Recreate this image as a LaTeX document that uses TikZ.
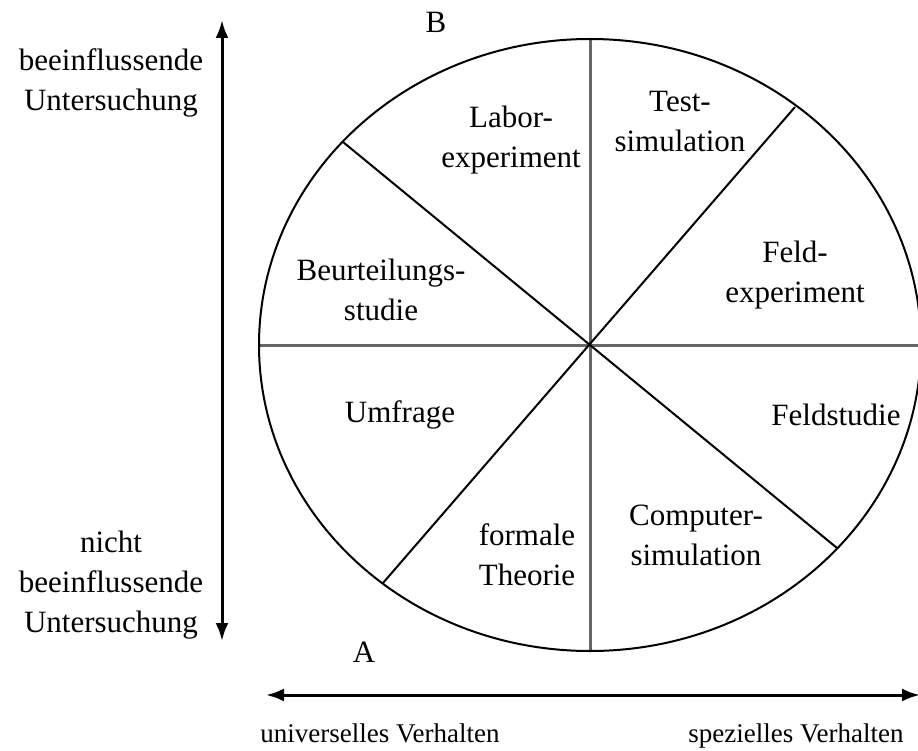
\documentclass[tikz,border=0pt]{standalone}
\usepackage{fontspec}
\setmainfont{Liberation Serif}
\usetikzlibrary{arrows.meta}
\begin{document}
\begin{tikzpicture}[x=1pt,y=-1pt,
  lbl/.style={font=\fontsize{31}{40}\selectfont, align=center, inner sep=0pt},
  lblsmall/.style={font=\fontsize{27}{34}\selectfont, align=center, inner sep=0pt},
  axis/.style={draw=black!60, line width=3pt},
  diag/.style={draw=black, line width=2pt},
  ell/.style={draw=black, line width=2pt},
  dimarrow/.style={draw=black, line width=3pt, {Latex[length=18pt,width=13pt]}-{Latex[length=18pt,width=13pt]}}]
\useasboundingbox (0,0) rectangle (918,751);
% key points
\coordinate (c) at (590,345);
\coordinate (top) at (590,39);
\coordinate (bot) at (590,652);
\coordinate (lft) at (259,345);
\coordinate (rgt) at (921,345);
\coordinate (d1a) at (343,142);
\coordinate (d1b) at (837,548);
\coordinate (d2a) at (795,107);
\coordinate (d2b) at (383,583);
\coordinate (vt) at (222,20);
\coordinate (vb) at (222,641);
\coordinate (hl) at (266,695);
\coordinate (hr) at (920,695);
% sectors
\path[axis] (lft) -- (rgt);
\path[axis] (top) -- (bot);
\path[diag] (d1a) -- (d1b);
\path[diag] (d2a) -- (d2b);
\path[ell] (c) ellipse [x radius=331pt, y radius=306pt];
% arrows
\path[dimarrow] (vb) -- (vt);
\path[dimarrow] (hl) -- (hr);
% labels
\node[lbl] (B) at (436,22) {B};
\node[lbl] (A) at (364,652) {A};
\node[lbl] (inf) at (111,83) {beeinflussende\\Untersuchung};
\node[lbl] (ninf) at (111,585) {nicht\\beeinflussende\\Untersuchung};
\node[lblsmall, anchor=base] (univ) at (380,742) {universelles Verhalten};
\node[lblsmall, anchor=base] (spez) at (796,742) {spezielles Verhalten};
\node[lbl] (labor) at (511,140) {Labor-\\experiment};
\node[lbl] (test) at (680,122) {Test-\\simulation};
\node[lbl] (beurt) at (381,290) {Beurteilungs-\\studie};
\node[lbl] (feldexp) at (795,275) {Feld-\\experiment};
\node[lbl] (umfr) at (400,415) {Umfrage};
\node[lbl] (feldst) at (836,415) {Feldstudie};
\node[lbl] (formal) at (527,555) {formale\\Theorie};
\node[lbl] (comp) at (696,535) {Computer-\\simulation};
\end{tikzpicture}
\end{document}
